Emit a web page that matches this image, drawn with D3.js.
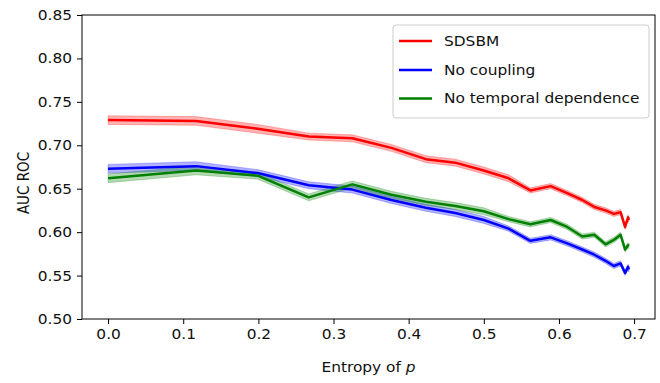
<!DOCTYPE html>
<html><head><meta charset="utf-8">
<script src="https://cdn.jsdelivr.net/npm/d3@7"></script>
<style>body{margin:0;background:#fff}svg{display:block}text{font-family:"DejaVu Sans",sans-serif;fill:#111}</style>
</head><body>
<svg id="c" width="660" height="383"></svg>
<script>
// Entropy of p (x values)
const entropy = [0, 0.117, 0.199, 0.267, 0.325, 0.377, 0.423, 0.462, 0.500, 0.533, 0.562, 0.589, 0.611, 0.631, 0.647, 0.662, 0.673, 0.682, 0.688, 0.692, 0.693];
// AUC ROC series
const sdsbm      = [0.729, 0.728, 0.719, 0.710, 0.708, 0.697, 0.684, 0.680, 0.671, 0.662, 0.648, 0.653, 0.645, 0.637, 0.629, 0.625, 0.621, 0.623, 0.606, 0.617, 0.614];
const noCoupling = [0.673, 0.676, 0.668, 0.654, 0.649, 0.637, 0.628, 0.622, 0.614, 0.604, 0.590, 0.594, 0.587, 0.580, 0.574, 0.567, 0.561, 0.564, 0.553, 0.560, 0.557];
const noTemporal = [0.662, 0.671, 0.665, 0.640, 0.655, 0.643, 0.635, 0.630, 0.624, 0.615, 0.609, 0.614, 0.606, 0.595, 0.597, 0.586, 0.591, 0.597, 0.580, 0.585, 0.584];
// half-width of the shaded bands
const sdsbmErr      = [0.005, 0.005, 0.005, 0.004, 0.004, 0.004, 0.004, 0.004, 0.004, 0.004, 0.003, 0.003, 0.003, 0.003, 0.003, 0.003, 0.003, 0.003, 0.003, 0.003, 0.003];
const noCouplingErr = [0.005, 0.005, 0.004, 0.004, 0.004, 0.004, 0.004, 0.004, 0.004, 0.003, 0.003, 0.003, 0.003, 0.003, 0.003, 0.003, 0.003, 0.003, 0.003, 0.003, 0.003];
const noTemporalErr = [0.005, 0.005, 0.004, 0.004, 0.004, 0.004, 0.004, 0.004, 0.004, 0.003, 0.003, 0.003, 0.003, 0.003, 0.003, 0.003, 0.003, 0.003, 0.003, 0.003, 0.003];
const seriesNames = ["SDSBM", "No coupling", "No temporal dependence"];
const seriesColors = ["#ff0000", "#0000ff", "#008000"];
const xTicks = [0.0, 0.1, 0.2, 0.3, 0.4, 0.5, 0.6, 0.7];
const yTicks = [0.50, 0.55, 0.60, 0.65, 0.70, 0.75, 0.80, 0.85];

const seriesVals = [sdsbm, noCoupling, noTemporal];
const seriesErr = [sdsbmErr, noCouplingErr, noTemporalErr];

const L = 82, R = 655, T = 15, B = 319;
const FS = 14, SX = 1.1;
const svg = d3.select("#c");
const x = d3.scaleLinear().domain([-0.0347, 0.7278]).range([L, R]);
const y = d3.scaleLinear().domain([0.5, 0.85]).range([B, T]);

// bands and lines
seriesVals.forEach((vals, i) => {
  const data = entropy.map((e, j) => ({x: e, v: vals[j], err: seriesErr[i][j]}));
  const area = d3.area().x(d => x(d.x)).y0(d => y(d.v - d.err)).y1(d => y(d.v + d.err));
  svg.append("path").datum(data).attr("d", area)
    .attr("fill", seriesColors[i]).attr("fill-opacity", 0.3)
    .attr("stroke", seriesColors[i]).attr("stroke-opacity", 0.25).attr("stroke-width", 1);
});
seriesVals.forEach((vals, i) => {
  const data = entropy.map((e, j) => ({x: e, v: vals[j]}));
  const line = d3.line().x(d => x(d.x)).y(d => y(d.v));
  svg.append("path").datum(data).attr("d", line)
    .attr("fill", "none").attr("stroke", seriesColors[i]).attr("stroke-width", 2.5)
    .attr("stroke-linejoin", "round");
});

// axes
const gx = svg.append("g").attr("transform", `translate(0,${B})`)
  .call(d3.axisBottom(x).tickValues(xTicks).tickFormat(d3.format(".1f")).tickSize(5).tickPadding(5));
const gy = svg.append("g").attr("transform", `translate(${L},0)`)
  .call(d3.axisLeft(y).tickValues(yTicks).tickFormat(d3.format(".2f")).tickSize(5).tickPadding(5));
[gx, gy].forEach(g => {
  g.select(".domain").remove();
  g.selectAll(".tick line").attr("stroke", "#000").attr("stroke-width", 1);
  g.selectAll(".tick text").attr("font-size", FS).attr("font-family", "DejaVu Sans").attr("fill", "#111");
});
gx.selectAll(".tick text").attr("transform", `scale(${SX},1)`);
gy.selectAll(".tick text").attr("x", 0).attr("transform", `translate(-10,0) scale(${SX},1)`);

svg.append("rect").attr("x", L).attr("y", T).attr("width", R - L).attr("height", B - T)
  .attr("fill", "none").attr("stroke", "#000").attr("stroke-width", 1);

// axis labels
const xl = svg.append("text").attr("transform", `translate(368.5,372) scale(${SX},1)`)
  .attr("text-anchor", "middle").attr("font-size", FS);
xl.append("tspan").text("Entropy of ");
xl.append("tspan").attr("font-style", "italic").text("p");
svg.append("text").attr("transform", `translate(29,183) rotate(-90) scale(1,1.15)`)
  .attr("text-anchor", "middle").attr("font-size", 13.5).text("AUC ROC");

// legend
const lg = svg.append("g");
lg.append("rect").attr("x", 393).attr("y", 25).attr("width", 256).attr("height", 93).attr("rx", 3)
  .attr("fill", "#fff").attr("fill-opacity", 0.8).attr("stroke", "#cccccc").attr("stroke-width", 1);
const legY = [41, 70, 98.5];
seriesNames.forEach((n, i) => {
  lg.append("line").attr("x1", 399).attr("x2", 432).attr("y1", legY[i]).attr("y2", legY[i])
    .attr("stroke", seriesColors[i]).attr("stroke-width", 2.5);
  lg.append("text").attr("transform", `translate(444,${legY[i]}) scale(${SX},1)`)
    .attr("dy", "0.35em").attr("font-size", FS).text(n);
});
</script>
</body></html>
